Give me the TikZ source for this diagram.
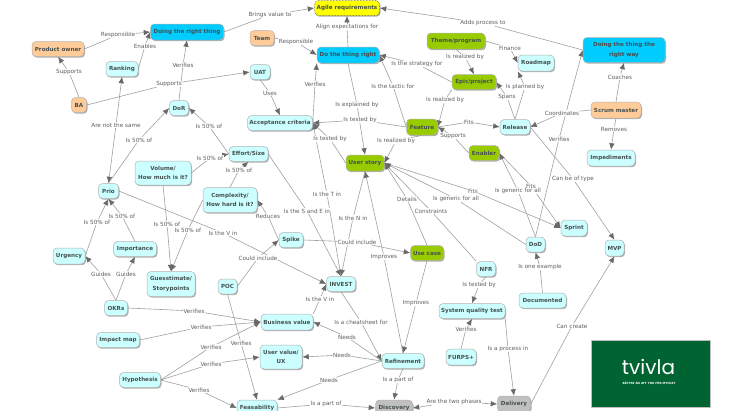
\documentclass[tikz,border=0pt]{standalone}
\usepackage{fontspec}
\setmainfont{DejaVu Sans}
\newfontfamily\logofont{Poppins}
\usetikzlibrary{arrows.meta,shadows}
\definecolor{cyanA}{RGB}{0,204,255}
\definecolor{cyanB}{RGB}{204,255,255}
\definecolor{orangeA}{RGB}{255,204,153}
\definecolor{greenA}{RGB}{153,204,0}
\definecolor{greyA}{RGB}{192,192,192}
\definecolor{yellowA}{RGB}{255,255,0}
\definecolor{linegray}{RGB}{160,160,160}
\definecolor{tipgray}{RGB}{105,105,105}
\definecolor{txtgray}{RGB}{70,80,80}
\definecolor{lblgray}{RGB}{95,95,95}
\definecolor{logogreen}{RGB}{0,100,50}
\pgfdeclarelayer{background}
\pgfdeclarelayer{labels}
\pgfsetlayers{background,labels,main}
\tikzset{
  box/.style={rectangle,rounded corners=4pt,draw=black!30,line width=.5pt,align=center,
    font=\fontsize{5.6}{9.5}\selectfont\bfseries,text=txtgray,inner sep=0pt,
    drop shadow={shadow xshift=1pt,shadow yshift=-1.2pt,fill=black!45,opacity=.7}},
  light/.style={box,fill=cyanB},
  blue/.style={box,fill=cyanA},
  orange/.style={box,fill=orangeA},
  green/.style={box,fill=greenA},
  grey/.style={box,fill=greyA},
  agile/.style={box,fill=yellowA,draw=black!80,densely dotted},
  lbl/.style={fill=white,inner sep=.3pt,font=\fontsize{5.7}{6.5}\selectfont,text=lblgray},
  conn/.style={draw=linegray,line width=.6pt},
  arr/.style={-{Latex[length=6.5pt,width=5.5pt,color=tipgray]}},
  rarr/.style={{Latex[length=6.5pt,width=5.5pt,color=tipgray]}-},
}
\newcount\lnknum
\newcommand{\cnode}[7]{\node[#2,minimum width=#5pt,minimum height=#6pt] (#1) at (#3,#4) {#7};}
\newcommand{\lnk}[6][]{%
  \global\advance\lnknum by 1
  \begin{pgfonlayer}{labels}\node[lbl] (L\the\lnknum) at (#4,#5) {#3};\end{pgfonlayer}
  \begin{pgfonlayer}{background}
    \draw[conn,#1] (#2) -- (L\the\lnknum);
    \draw[conn,arr] (L\the\lnknum) -- (#6);
  \end{pgfonlayer}}
\begin{document}
\begin{tikzpicture}[x=1pt,y=-1pt]
\useasboundingbox (0,0) rectangle (750,410);
\begin{pgfonlayer}{background}
\fill[white] (0,0) rectangle (750,410);
\end{pgfonlayer}
% nodes
\cnode{po}{orange}{58}{49}{52}{15}{Product owner}
\cnode{drt}{blue}{187}{32}{73}{16}{Doing the right thing}
\cnode{rank}{light}{122}{69}{32}{15}{Ranking}
\cnode{ba}{orange}{79}{105}{15}{15}{BA}
\cnode{dor}{light}{179}{108}{19}{15}{DoR}
\cnode{prio}{light}{108.5}{191}{20}{15}{Prio}
\cnode{uat}{light}{260}{72}{20}{15}{UAT}
\cnode{agile}{agile}{347}{8}{65}{15}{Agile requirements}
\cnode{team}{orange}{262}{38}{24}{15}{Team}
\cnode{dtr}{blue}{348}{55}{62}{16}{Do the thing right}
\cnode{theme}{green}{456}{41}{58}{16}{Theme/program}
\cnode{epic}{green}{474}{82}{44}{15}{Epic/project}
\cnode{road}{light}{536}{63}{36}{16}{Roadmap}
\cnode{way}{blue}{624}{50}{82}{25}{Doing the thing the\\right way}
\cnode{scrum}{orange}{616}{110}{50}{16}{Scrum master}
\cnode{rel}{light}{515}{127}{30}{15}{Release}
\cnode{imp}{light}{611}{158}{48}{16}{Impediments}
\cnode{acc}{light}{280}{123}{65}{15}{Acceptance criteria}
\cnode{feat}{green}{422}{127}{31}{16}{Feature}
\cnode{enab}{green}{484}{153}{30}{15}{Enabler}
\cnode{story}{green}{365}{163}{38}{16}{User story}
\cnode{eff}{light}{248.5}{154}{39}{15}{Effort/Size}
\cnode{vol}{light}{163}{173}{56}{24}{Volume/\\How much is it?}
\cnode{cplx}{light}{230}{200}{54}{25}{Complexity/\\How hard is it?}
\cnode{spike}{light}{291}{240}{24}{15}{Spike}
\cnode{impo}{light}{135}{249}{43}{15}{Importance}
\cnode{urg}{light}{69}{256}{32}{16}{Urgency}
\cnode{guess}{light}{171}{284}{48}{25}{Guesstimate/\\Storypoints}
\cnode{poc}{light}{227.5}{286.5}{19}{15}{POC}
\cnode{okr}{light}{116}{308}{23}{15}{OKRs}
\cnode{map}{light}{118}{340}{43}{15}{Impact map}
\cnode{hyp}{light}{140}{380}{41}{15}{Hypothesis}
\cnode{inv}{light}{341}{284}{29}{15}{INVEST}
\cnode{uc}{green}{427}{253}{33}{15}{Use case}
\cnode{nfr}{light}{486}{269}{19}{15}{NFR}
\cnode{sys}{light}{472}{311}{66}{15}{System quality test}
\cnode{bv}{light}{287}{322}{52}{16}{Business value}
\cnode{uv}{light}{281}{357}{42}{24}{User value/\\UX}
\cnode{ref}{light}{403}{361}{42}{15}{Refinement}
\cnode{furps}{light}{461}{357}{30}{16}{FURPS+}
\cnode{feas}{light}{257}{408}{40}{16}{Feasability}
\cnode{disc}{grey}{394}{408}{37}{16}{Discovery}
\cnode{deli}{grey}{514}{404}{33}{16}{Delivery}
\cnode{sprint}{light}{574}{228}{26}{16}{Sprint}
\cnode{dod}{light}{535.5}{244.5}{19}{15}{DoD}
\cnode{mvp}{light}{614.5}{248}{19}{16}{MVP}
\cnode{docu}{light}{542.5}{300.5}{47}{15}{Documented}
% logo
\node[fill=logogreen,draw=black!25,line width=.4pt,minimum width=119pt,minimum height=67pt,inner sep=0pt] (logo) at (650.5,373.5) {};
\node[text=white,font=\logofont\fontsize{20}{20}\selectfont,inner sep=0pt] (logot) at (648.5,367) {tvivla};
\node[text=white,font=\fontsize{2.8}{3}\selectfont\bfseries,inner sep=0pt] (logos) at (649,383) {BÄTTRE ÄN ATT TRO FÖR MYCKET};
% connectors
\lnk{po.east}{Responsible}{118}{35}{drt.west}
\lnk{rank.east}{Enables}{145}{46}{drt.west}
\lnk{ba.north}{Supports}{69}{72}{po.south}
\lnk{ba.east}{Supports}{169}{84}{uat.west}
\lnk{dor.north}{Verifies}{183}{65}{drt.south}
\lnk[rarr]{prio.north}{Are not the same}{116}{125}{rank.south}
\lnk{prio.north}{Is 50\% of}{139}{140}{dor.west}
\lnk{eff.west}{Is 50\% of}{209}{126}{dor.east}
\lnk{vol.east}{Is 50\% of}{210}{158}{eff.west}
\lnk{cplx.north}{Is 50\% of}{239}{170}{eff.south}
\lnk{vol.south}{Is 50\% of}{167}{224}{guess.north}
\lnk{cplx.west}{Is 50\% of}{188}{230}{guess.north}
\lnk{urg.east}{Is 50\% of}{97}{222}{prio.south}
\lnk{impo.north}{Is 50\% of}{122}{216}{prio.south}
\lnk{okr.north}{Guides}{101}{274}{urg.east}
\lnk{okr.north}{Guides}{126}{274}{impo.south}
\lnk{prio.east}{Is the V in}{223}{233}{inv.west}
\lnk{bv.north east}{Is the V in}{320}{299}{inv.west}
\lnk{spike.west}{Reduces}{268}{216}{cplx.east}
\lnk{poc.east}{Could include}{258}{258}{spike.west}
\lnk{spike.east}{Could include}{357}{242}{uc.west}
\lnk{eff.east}{Is the S and E in}{307}{211}{inv.north}
\lnk{inv.north}{Is the T in}{327}{194}{acc.east}
\lnk{story.south}{Is the N in}{353}{218}{inv.north}
\lnk{dtr.south}{Is explained by}{357}{105}{story.north}
\lnk{ref.north}{Improves}{384}{257}{story.south}
\lnk{uc.south}{Improves}{416}{303}{ref.north}
\lnk{feat.west}{Is tested by}{360}{120}{acc.east}
\lnk{story.west}{Is tested by}{330}{139}{acc.east}
\lnk{acc.east}{Verifies}{315}{84}{dtr.south west}
\lnk{uat.south}{Uses}{270}{93}{acc.north}
\lnk{team.east}{Responsible}{296}{42}{dtr.west}
\lnk{drt.east}{Brings value to}{270}{15}{agile.west}
\lnk{dtr.north}{Align expectations for}{347}{27}{agile.south}
\lnk{way.west}{Adds process to}{483}{23}{agile.east}
\lnk{epic.west}{Is the strategy for}{417}{64}{dtr.east}
\lnk{feat.west}{Is the tactic for}{393}{86}{dtr.east}
\lnk{theme.south}{Is realized by}{465}{57}{epic.north}
\lnk{epic.south west}{Is realized by}{445}{100}{feat.east}
\lnk{feat.south}{Is realized by}{396}{141}{story.east}
\lnk{feat.east}{Fits}{469}{122}{rel.west}
\lnk{enab.west}{Supports}{453}{136}{feat.east}
\lnk{theme.east}{Finance}{510}{48}{road.west}
\lnk{rel.north}{Is planned by}{525}{87}{road.south west}
\lnk{rel.north}{Spans}{507}{97}{epic.east}
\lnk{scrum.west}{Coordinates}{562}{113}{rel.east}
\lnk{scrum.north}{Coaches}{620}{77}{way.south}
\lnk{scrum.south}{Removes}{614}{129}{imp.north}
\lnk{dod.north}{Verifies}{559}{139}{way.west}
\lnk{rel.east}{Can be of type}{573}{179}{mvp.north}
\lnk{story.east}{Fits}{473}{191}{sprint.west}
\lnk{enab.east}{Fits}{531}{186}{sprint.west}
\lnk{dod.west}{Is generic for all}{456}{199}{story.east}
\lnk{dod.north}{Is generic for all}{518}{191}{enab.east}
\lnk{uc.north}{Details}{407}{199}{story.east}
\lnk{nfr.north west}{Constraints}{431}{211}{story.east}
\lnk{docu.north}{Is one example}{540}{267}{dod.south}
\lnk{nfr.south}{Is tested by}{479}{285}{sys.north}
\lnk{furps.north}{Verifies}{466}{329}{sys.south}
\lnk{sys.south east}{Is a process in}{508}{349}{deli.north}
\lnk{ref.south}{Is a part of}{398}{380}{disc.north}
\lnk{feas.east}{Is a part of}{326}{404}{disc.west}
\lnk[rarr]{disc.east}{Are the two phases}{454}{402}{deli.west}
\lnk{deli.east}{Can create}{572}{326}{mvp.south}
\lnk{ref.west}{Needs}{347}{337}{bv.east}
\lnk{ref.west}{Needs}{342}{355}{uv.east}
\lnk{ref.west}{Needs}{329}{380}{feas.north east}
\lnk{inv.south}{Is a cheatsheet for}{361}{322}{ref.west}
\lnk{okr.east}{Verifies}{194}{311}{bv.west}
\lnk{map.east}{Verifies}{201}{327}{bv.west}
\lnk{hyp.east}{Verifies}{211}{347}{bv.west}
\lnk{hyp.east}{Verifies}{211}{364}{uv.west}
\lnk{hyp.east}{Verifies}{199}{390}{feas.west}
\lnk{poc.south}{Verifies}{241}{343}{feas.north}
\end{tikzpicture}
\end{document}
